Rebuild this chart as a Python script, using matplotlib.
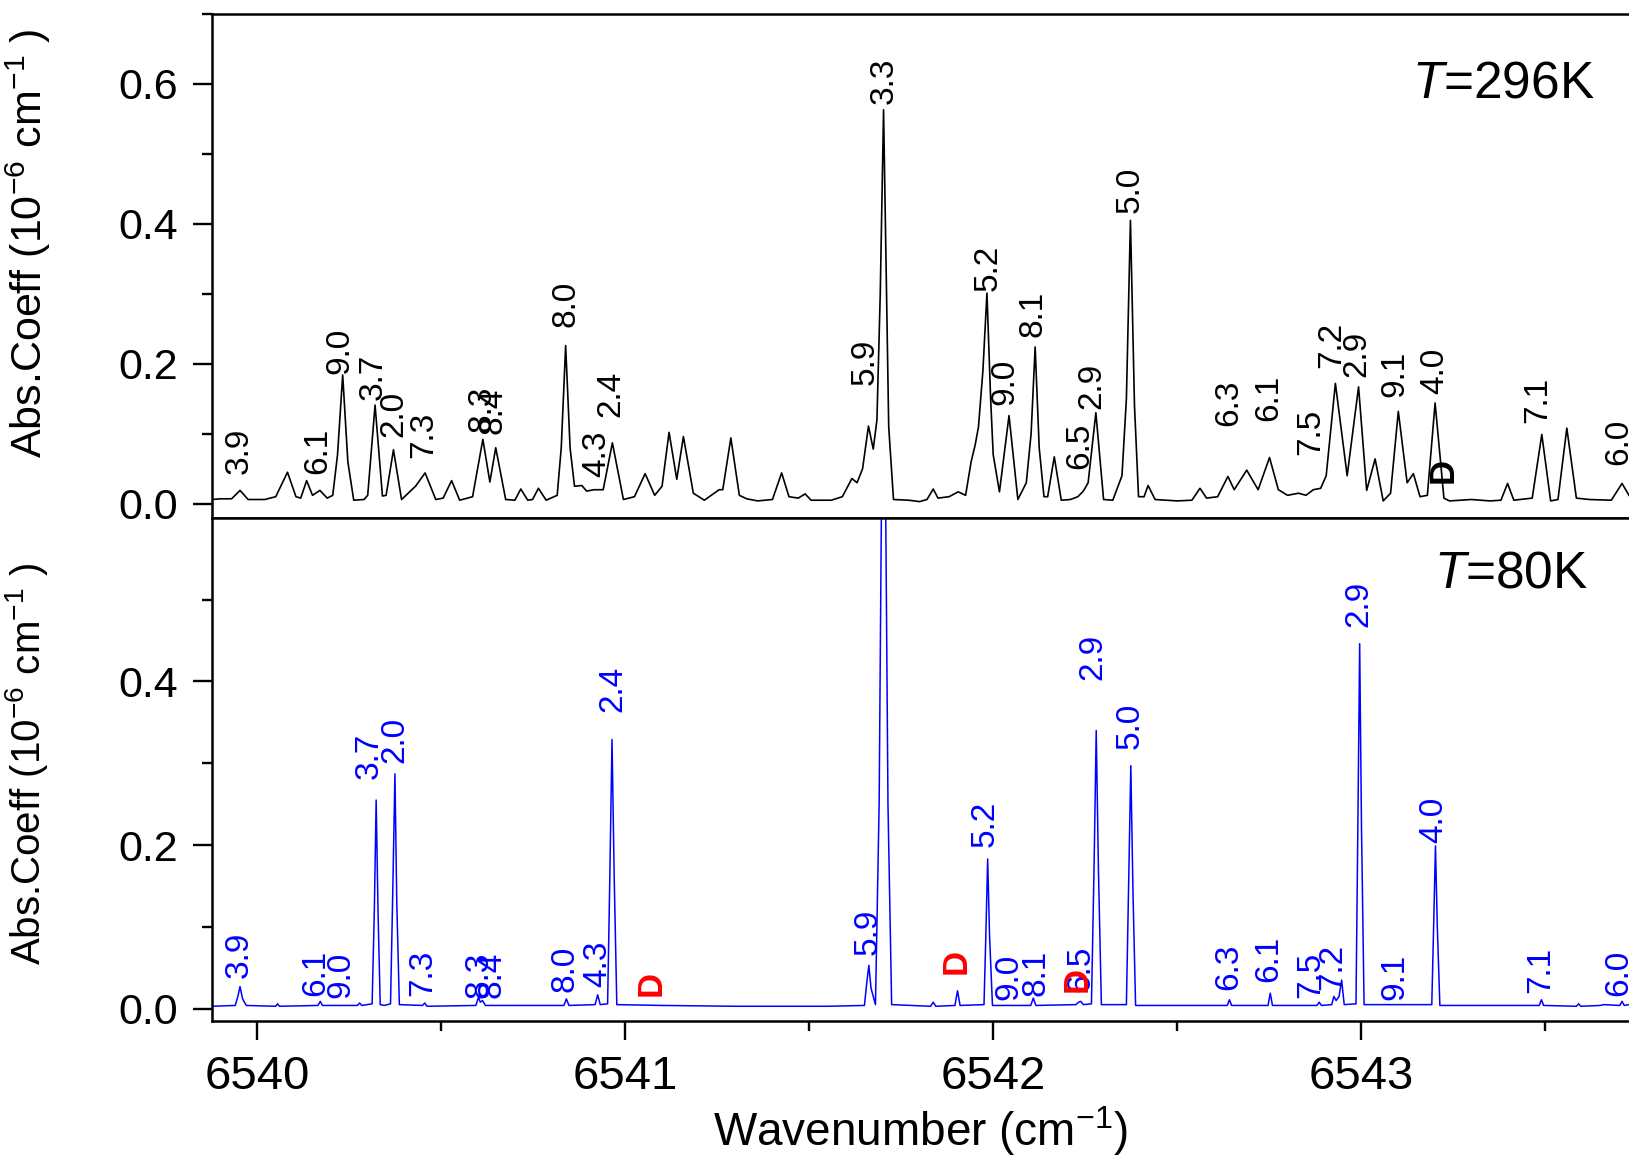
import matplotlib
matplotlib.use("Agg")
import matplotlib.pyplot as plt

# --- data (wavenumber in cm-1, abs. coeff in 1e-6 cm-1) ---

# T = 296 K spectrum, vertices of the trace
top_wn = [
    6539.876, 6539.900, 6539.930, 6539.953, 6539.975, 6540.020, 6540.050, 6540.082,
    6540.105, 6540.118, 6540.134, 6540.150, 6540.170, 6540.190, 6540.205, 6540.218,
    6540.232, 6540.246, 6540.262, 6540.290, 6540.300, 6540.320, 6540.340, 6540.350,
    6540.370, 6540.392, 6540.430, 6540.456, 6540.485, 6540.505, 6540.528, 6540.550,
    6540.585, 6540.613, 6540.632, 6540.648, 6540.675, 6540.700, 6540.716, 6540.735,
    6540.748, 6540.764, 6540.785, 6540.815, 6540.826, 6540.838, 6540.850, 6540.862,
    6540.882, 6540.895, 6540.915, 6540.940, 6540.965, 6540.995, 6541.025, 6541.054,
    6541.080, 6541.100, 6541.119, 6541.140, 6541.158, 6541.185, 6541.215, 6541.255,
    6541.265, 6541.287, 6541.310, 6541.330, 6541.360, 6541.400, 6541.425, 6541.445,
    6541.470, 6541.489, 6541.505, 6541.560, 6541.590, 6541.616, 6541.630, 6541.645,
    6541.661, 6541.674, 6541.684, 6541.693, 6541.702, 6541.710, 6541.716, 6541.729,
    6541.770, 6541.800, 6541.820, 6541.837, 6541.850, 6541.880, 6541.905, 6541.925,
    6541.940, 6541.951, 6541.960, 6541.972, 6541.983, 6541.993, 6542.000, 6542.017,
    6542.043, 6542.067, 6542.090, 6542.103, 6542.114, 6542.125, 6542.138, 6542.148,
    6542.166, 6542.185, 6542.210, 6542.230, 6542.245, 6542.258, 6542.279, 6542.300,
    6542.325, 6542.350, 6542.362, 6542.373, 6542.384, 6542.395, 6542.410, 6542.421,
    6542.440, 6542.500, 6542.540, 6542.562, 6542.580, 6542.610, 6542.638, 6542.655,
    6542.689, 6542.720, 6542.751, 6542.775, 6542.800, 6542.830, 6542.850, 6542.870,
    6542.890, 6542.905, 6542.930, 6542.962, 6542.993, 6543.015, 6543.038, 6543.060,
    6543.080, 6543.101, 6543.125, 6543.142, 6543.160, 6543.180, 6543.201, 6543.225,
    6543.240, 6543.300, 6543.350, 6543.380, 6543.398, 6543.415, 6543.465, 6543.491,
    6543.515, 6543.535, 6543.559, 6543.585, 6543.620, 6543.680, 6543.709, 6543.728,
]
top_abs = [
    0.006, 0.007, 0.007, 0.019, 0.006, 0.006, 0.010, 0.045,
    0.010, 0.008, 0.033, 0.012, 0.019, 0.008, 0.012, 0.070,
    0.184, 0.060, 0.005, 0.006, 0.012, 0.141, 0.011, 0.012,
    0.077, 0.006, 0.025, 0.044, 0.006, 0.008, 0.033, 0.005,
    0.010, 0.092, 0.031, 0.080, 0.006, 0.005, 0.021, 0.005,
    0.006, 0.022, 0.005, 0.012, 0.080, 0.226, 0.080, 0.025,
    0.026, 0.018, 0.020, 0.020, 0.087, 0.006, 0.010, 0.043,
    0.012, 0.025, 0.102, 0.035, 0.096, 0.015, 0.005, 0.020,
    0.020, 0.094, 0.012, 0.007, 0.004, 0.006, 0.044, 0.010,
    0.008, 0.014, 0.005, 0.005, 0.010, 0.036, 0.030, 0.050,
    0.111, 0.078, 0.120, 0.300, 0.563, 0.300, 0.110, 0.006,
    0.005, 0.003, 0.006, 0.021, 0.008, 0.010, 0.017, 0.012,
    0.060, 0.084, 0.110, 0.190, 0.301, 0.150, 0.070, 0.017,
    0.126, 0.006, 0.030, 0.100, 0.224, 0.080, 0.010, 0.010,
    0.067, 0.005, 0.006, 0.010, 0.018, 0.030, 0.130, 0.006,
    0.005, 0.040, 0.150, 0.405, 0.140, 0.010, 0.010, 0.026,
    0.006, 0.004, 0.005, 0.022, 0.008, 0.010, 0.039, 0.020,
    0.048, 0.020, 0.066, 0.020, 0.012, 0.015, 0.012, 0.020,
    0.022, 0.040, 0.172, 0.040, 0.167, 0.019, 0.064, 0.004,
    0.015, 0.132, 0.030, 0.043, 0.010, 0.012, 0.144, 0.008,
    0.004, 0.006, 0.004, 0.005, 0.029, 0.005, 0.008, 0.099,
    0.004, 0.006, 0.108, 0.008, 0.006, 0.005, 0.029, 0.012,
]

# T = 80 K spectrum, vertices of the trace
bot_wn = [
    6539.876, 6539.940, 6539.947, 6539.953, 6539.960, 6539.970, 6540.050, 6540.055,
    6540.060, 6540.165, 6540.171, 6540.177, 6540.272, 6540.278, 6540.284, 6540.312,
    6540.318, 6540.323, 6540.328, 6540.334, 6540.345, 6540.362, 6540.368, 6540.374,
    6540.379, 6540.386, 6540.449, 6540.455, 6540.461, 6540.594, 6540.601, 6540.606,
    6540.612, 6540.620, 6540.833, 6540.840, 6540.847, 6540.918, 6540.925, 6540.932,
    6540.952, 6540.958, 6540.964, 6540.970, 6540.977, 6541.100, 6541.300, 6541.550,
    6541.650, 6541.656, 6541.662, 6541.668, 6541.680, 6541.690, 6541.702, 6541.714,
    6541.724, 6541.830, 6541.837, 6541.844, 6541.896, 6541.903, 6541.910, 6541.975,
    6541.980, 6541.985, 6541.990, 6541.998, 6542.102, 6542.109, 6542.116, 6542.225,
    6542.232, 6542.238, 6542.245, 6542.267, 6542.274, 6542.280, 6542.286, 6542.294,
    6542.362, 6542.368, 6542.374, 6542.380, 6542.387, 6542.636, 6542.642, 6542.648,
    6542.747, 6542.753, 6542.759, 6542.880, 6542.886, 6542.892, 6542.920, 6542.926,
    6542.932, 6542.940, 6542.947, 6542.954, 6542.986, 6542.991, 6542.996, 6543.001,
    6543.008, 6543.192, 6543.197, 6543.202, 6543.207, 6543.214, 6543.484, 6543.490,
    6543.496, 6543.585, 6543.591, 6543.597, 6543.650, 6543.660, 6543.703, 6543.709,
    6543.715, 6543.728,
]
bot_abs = [
    0.003, 0.004, 0.015, 0.027, 0.012, 0.004, 0.003, 0.006,
    0.003, 0.004, 0.009, 0.004, 0.004, 0.007, 0.004, 0.006,
    0.120, 0.255, 0.120, 0.005, 0.004, 0.006, 0.140, 0.287,
    0.130, 0.005, 0.004, 0.007, 0.003, 0.004, 0.014, 0.008,
    0.010, 0.004, 0.004, 0.012, 0.004, 0.005, 0.017, 0.005,
    0.006, 0.160, 0.329, 0.160, 0.005, 0.004, 0.003, 0.003,
    0.004, 0.030, 0.053, 0.025, 0.005, 0.250, 0.950, 0.250,
    0.005, 0.003, 0.008, 0.003, 0.004, 0.022, 0.004, 0.005,
    0.090, 0.183, 0.090, 0.004, 0.004, 0.013, 0.004, 0.005,
    0.008, 0.009, 0.005, 0.006, 0.170, 0.340, 0.170, 0.005,
    0.005, 0.150, 0.297, 0.140, 0.004, 0.004, 0.011, 0.004,
    0.004, 0.019, 0.004, 0.004, 0.008, 0.004, 0.005, 0.015,
    0.010, 0.015, 0.035, 0.005, 0.006, 0.220, 0.446, 0.220,
    0.005, 0.005, 0.100, 0.199, 0.100, 0.004, 0.004, 0.011,
    0.004, 0.003, 0.006, 0.003, 0.004, 0.005, 0.004, 0.009,
    0.004, 0.005,
]

# line assignments written above the peaks
top_label_text = ["3.9", "6.1", "9.0", "3.7", "2.0", "7.3", "8.3", "8.4", "8.0", "4.3",
                  "2.4", "5.9", "3.3", "5.2", "9.0", "8.1", "6.5", "2.9", "5.0", "6.3",
                  "6.1", "7.5", "7.2", "2.9", "9.1", "4.0", "7.1", "6.0"]
top_label_wn = [6539.950, 6540.165, 6540.225, 6540.315, 6540.370, 6540.451, 6540.611,
                6540.641, 6540.839, 6540.923, 6540.961, 6541.652, 6541.703, 6541.986,
                6542.032, 6542.108, 6542.236, 6542.268, 6542.372, 6542.641, 6542.750,
                6542.864, 6542.921, 6542.989, 6543.092, 6543.201, 6543.481, 6543.699]
top_label_y = [0.043, 0.043, 0.186, 0.148, 0.095, 0.066, 0.102, 0.099, 0.252, 0.038,
               0.124, 0.169, 0.571, 0.304, 0.141, 0.238, 0.050, 0.136, 0.415, 0.111,
               0.118, 0.069, 0.194, 0.181, 0.152, 0.157, 0.116, 0.055]
top_d_wn = [6543.223]
top_d_y = [0.029]

bot_label_text = ["3.9", "6.1", "9.0", "3.7", "2.0", "7.3", "8.3", "8.4", "8.0", "4.3",
                  "2.4", "5.9", "5.2", "9.0", "8.1", "6.5", "2.9", "5.0", "6.3", "6.1",
                  "7.5", "7.2", "2.9", "9.1", "4.0", "7.1", "6.0"]
bot_label_wn = [6539.950, 6540.158, 6540.228, 6540.304, 6540.374, 6540.449, 6540.603,
                6540.639, 6540.836, 6540.926, 6540.967, 6541.659, 6541.978, 6542.043,
                6542.116, 6542.238, 6542.271, 6542.372, 6542.641, 6542.749, 6542.863,
                6542.924, 6542.994, 6543.091, 6543.198, 6543.488, 6543.701]
bot_label_y = [0.038, 0.015, 0.013, 0.281, 0.300, 0.015, 0.013, 0.013, 0.021, 0.027,
               0.363, 0.066, 0.198, 0.011, 0.015, 0.021, 0.402, 0.317, 0.023, 0.033,
               0.013, 0.023, 0.466, 0.011, 0.203, 0.019, 0.015]
bot_d_wn = [6541.071, 6541.900, 6542.228]
bot_d_y = [0.015, 0.042, 0.021]

XLIM = (6539.876, 6543.728)
FONT = "Liberation Sans"
YLABEL = r"Abs.Coeff (10$^{-6}$ cm$^{-1}$ )"


def style_axis(ax, ylim, yticks):
    ax.set_xlim(*XLIM)
    ax.set_ylim(*ylim)
    ax.set_yticks(yticks)
    ax.set_yticklabels([f"{v:.1f}" for v in yticks])
    ax.set_yticks([0.1, 0.3, 0.5], minor=True)
    ax.set_xticks([6540, 6541, 6542, 6543])
    ax.set_xticks([6540.5, 6541.5, 6542.5, 6543.5], minor=True)
    ax.spines["right"].set_visible(False)
    for s in ("left", "top", "bottom"):
        ax.spines[s].set_linewidth(1.8)
    ax.tick_params(axis="both", which="major", direction="out", length=13.5,
                   width=1.7, pad=11)
    ax.tick_params(axis="y", which="major", labelsize=31)
    ax.tick_params(axis="x", which="major", labelsize=34)
    ax.tick_params(axis="both", which="minor", direction="out", length=7.5, width=1.7)
    ax.tick_params(axis="x", which="both", top=False)
    ax.tick_params(axis="y", which="both", right=False)


def make_plot():
    plt.rcParams["font.family"] = [FONT, "DejaVu Sans"]
    plt.rcParams["mathtext.fontset"] = "custom"
    plt.rcParams["mathtext.rm"] = FONT
    plt.rcParams["mathtext.it"] = FONT + ":italic"
    plt.rcParams["mathtext.default"] = "regular"

    fig = plt.figure(figsize=(16.29, 11.60), dpi=100)
    left = 211.7 / 1629
    width = 1.0 - left
    ax_top = fig.add_axes([left, 1 - 517.7 / 1160, width, 503.7 / 1160])
    ax_bot = fig.add_axes([left, 1 - 1021 / 1160, width, 503.3 / 1160])

    # --- upper panel, 296 K ---
    ax_top.plot(top_wn, top_abs, color="black", lw=1.2)
    style_axis(ax_top, (-0.02, 0.70), [0.0, 0.2, 0.4, 0.6])
    ax_top.set_yticks([0.1, 0.3, 0.5, 0.7], minor=True)
    ax_top.tick_params(axis="x", which="both", bottom=False, labelbottom=False)
    for t, x, y in zip(top_label_text, top_label_wn, top_label_y):
        ax_top.text(x, y, t, rotation=90, ha="center", va="bottom", fontsize=24,
                    color="black")
    for x, y in zip(top_d_wn, top_d_y):
        ax_top.text(x, y, "D", rotation=90, ha="center", va="bottom", fontsize=25,
                    fontweight="bold", color="black")
    ax_top.set_ylabel(YLABEL, fontsize=31)
    ax_top.yaxis.set_label_coords(-0.112, 0.545)

    # --- lower panel, 80 K ---
    ax_bot.plot(bot_wn, bot_abs, color="#0000ff", lw=1.1)
    style_axis(ax_bot, (-0.015, 0.60), [0.0, 0.2, 0.4])
    for t, x, y in zip(bot_label_text, bot_label_wn, bot_label_y):
        ax_bot.text(x, y, t, rotation=90, ha="center", va="bottom", fontsize=24,
                    color="#0000ff")
    for x, y in zip(bot_d_wn, bot_d_y):
        ax_bot.text(x, y, "D", rotation=90, ha="center", va="bottom", fontsize=25,
                    fontweight="bold", color="#ff0000")
    ax_bot.set_ylabel(YLABEL, fontsize=29)
    ax_bot.yaxis.set_label_coords(-0.114, 0.51)
    ax_bot.set_xlabel(r"Wavenumber (cm$^{-1}$)", fontsize=33, labelpad=4)

    # temperature tags
    fig.text(1595 / 1629, 1 - 98 / 1160, r"$\it{T}$=296K", ha="right",
             va="baseline", fontsize=37)
    fig.text(1588 / 1629, 1 - 588 / 1160, r"$\it{T}$=80K", ha="right",
             va="baseline", fontsize=37)

    fig.savefig("out.png", dpi=100)


if __name__ == "__main__":
    make_plot()
